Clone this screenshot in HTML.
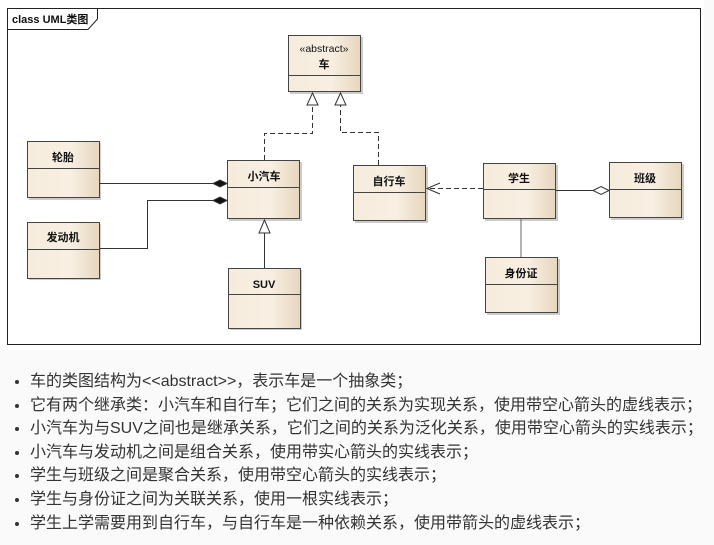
<!DOCTYPE html>
<html><head><meta charset="utf-8"><style>
body{margin:0;width:714px;height:545px;background:#fafafa;overflow:hidden;font-family:"Liberation Sans","Noto Sans CJK SC",sans-serif}
ul{position:absolute;left:0;top:370px;margin:0;padding:0 0 0 30px;font-size:16px;color:#333;line-height:23.6px}
li{margin:0;white-space:nowrap}
</style></head><body>
<svg width="704" height="350" style="position:absolute;left:0;top:0" xmlns="http://www.w3.org/2000/svg">
<defs>
<linearGradient id="g" x1="0" x2="1"><stop offset="0" stop-color="#f6ecdc"/><stop offset="0.6" stop-color="#f8efe2"/><stop offset="1" stop-color="#e6d6bd"/></linearGradient>
</defs>
<rect width="704" height="350" fill="#fff"/>
<rect x="7.5" y="8.5" width="693" height="336" fill="none" stroke="#222" stroke-width="1"/>
<path d="M7.5 29.5H88L97.5 19V8.5" fill="none" stroke="#222"/>
<text x="12" y="23" font-size="11" font-weight="bold" fill="#111" font-family="Liberation Sans,Noto Sans CJK SC,sans-serif">class UML类图</text>
<g font-family="Liberation Sans,Noto Sans CJK SC,sans-serif" font-size="11" font-weight="bold" fill="#111" text-anchor="middle">
<g stroke="#444" stroke-width="1">
<rect x="290" y="37" width="73" height="57" fill="#ccc" stroke="none"/>
<rect x="288.5" y="35.5" width="72" height="56" fill="url(#g)"/><line x1="288.5" y1="75.5" x2="360.5" y2="75.5"/>
<rect x="29" y="143" width="72" height="57" fill="#ccc" stroke="none"/>
<rect x="27.5" y="141.5" width="72" height="56" fill="url(#g)"/><line x1="27.5" y1="168.5" x2="99.5" y2="168.5"/>
<rect x="29" y="224" width="72" height="56" fill="#ccc" stroke="none"/>
<rect x="27.5" y="222.5" width="72" height="56" fill="url(#g)"/><line x1="27.5" y1="249.5" x2="99.5" y2="249.5"/>
<rect x="229" y="162" width="73" height="59" fill="#ccc" stroke="none"/>
<rect x="227.5" y="160.5" width="72" height="58" fill="url(#g)"/><line x1="227.5" y1="187.5" x2="299.5" y2="187.5"/>
<rect x="230" y="270" width="72" height="60" fill="#ccc" stroke="none"/>
<rect x="228.5" y="268.5" width="72" height="60" fill="url(#g)"/><line x1="228.5" y1="294.5" x2="300.5" y2="294.5"/>
<rect x="355" y="167" width="73" height="56" fill="#ccc" stroke="none"/>
<rect x="353.5" y="165.5" width="72" height="55" fill="url(#g)"/><line x1="353.5" y1="192.5" x2="425.5" y2="192.5"/>
<rect x="485" y="165" width="73" height="56" fill="#ccc" stroke="none"/>
<rect x="483.5" y="163.5" width="72" height="55" fill="url(#g)"/><line x1="483.5" y1="189.5" x2="555.5" y2="189.5"/>
<rect x="611" y="164" width="73" height="56" fill="#ccc" stroke="none"/>
<rect x="609.5" y="162.5" width="72" height="55" fill="url(#g)"/><line x1="609.5" y1="189.5" x2="681.5" y2="189.5"/>
<rect x="487" y="259" width="73" height="56" fill="#ccc" stroke="none"/>
<rect x="485.5" y="257.5" width="72" height="55" fill="url(#g)"/><line x1="485.5" y1="284.5" x2="557.5" y2="284.5"/>
</g>
<text x="324" y="52" font-weight="normal" font-size="10.5">«abstract»</text>
<text x="324" y="68">车</text>
<text x="63" y="161">轮胎</text>
<text x="63" y="241">发动机</text>
<text x="264" y="180">小汽车</text>
<text x="264" y="288">SUV</text>
<text x="389" y="185">自行车</text>
<text x="519" y="182">学生</text>
<text x="645" y="182">班级</text>
<text x="521" y="277">身份证</text>
</g>
<g fill="none" stroke="#333" stroke-width="1">
<path d="M264.5 160V133.5H312.5V105" stroke-dasharray="5,3"/>
<path d="M378.5 165V132.5H340.5V105" stroke-dasharray="5,3"/>
<path d="M312.5 93L307 105H318Z M340.5 93L335 105H346Z" fill="#fff"/>
<path d="M264.5 268V233"/><path d="M264.5 220L259 233H270Z" fill="#fff"/>
<path d="M99.5 183.5H213"/><path d="M99.5 248.5H147.5V200.5H213"/>
<path d="M227 183.5L220 180L213 183.5L220 187Z M227 200.5L220 197L213 200.5L220 204Z" fill="#111"/>
<path d="M483 188.5H428" stroke-dasharray="5,3"/><path d="M440 183L427 188.5L440 194"/>
<path d="M556 190.5H593"/><path d="M609 190.5L601 186.5L593 190.5L601 194.5Z" fill="#fff"/>
<path d="M521 219V257" stroke="#666"/>
</g>
</svg>
<ul>
<li>车的类图结构为&lt;&lt;abstract&gt;&gt;，表示车是一个抽象类；</li>
<li>它有两个继承类：小汽车和自行车；它们之间的关系为实现关系，使用带空心箭头的虚线表示；</li>
<li>小汽车为与SUV之间也是继承关系，它们之间的关系为泛化关系，使用带空心箭头的实线表示；</li>
<li>小汽车与发动机之间是组合关系，使用带实心箭头的实线表示；</li>
<li>学生与班级之间是聚合关系，使用带空心箭头的实线表示；</li>
<li>学生与身份证之间为关联关系，使用一根实线表示；</li>
<li>学生上学需要用到自行车，与自行车是一种依赖关系，使用带箭头的虚线表示；</li>
</ul>
</body></html>
